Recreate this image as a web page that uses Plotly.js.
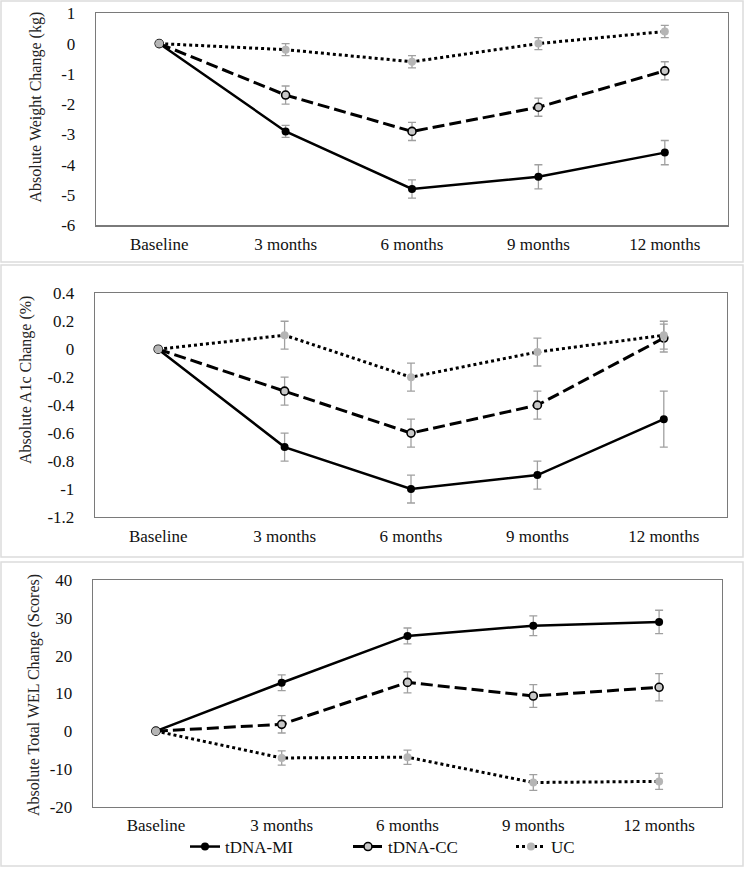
<!DOCTYPE html>
<html>
<head>
<meta charset="utf-8">
<script src="https://cdn.plot.ly/plotly-3.0.1.min.js"></script>
<style>html,body{margin:0;padding:0;background:#fff;}#chart{width:745px;height:869px;}</style>
</head>
<body>
<div id="chart"></div>
<script>
const categories = ['Baseline', '3 months', '6 months', '9 months', '12 months'];
const seriesNames = ['tDNA-MI', 'tDNA-CC', 'UC'];

// Panel 1: Absolute Weight Change (kg)
const weightMI = [0, -2.9, -4.8, -4.4, -3.6];
const weightMIErr = [0, 0.2, 0.3, 0.4, 0.4];
const weightCC = [0, -1.7, -2.9, -2.1, -0.9];
const weightCCErr = [0, 0.3, 0.3, 0.3, 0.3];
const weightUC = [0, -0.2, -0.6, 0.0, 0.4];
const weightUCErr = [0, 0.2, 0.2, 0.2, 0.2];

// Panel 2: Absolute A1c Change (%)
const a1cMI = [0, -0.7, -1.0, -0.9, -0.5];
const a1cMIErr = [0, 0.1, 0.1, 0.1, 0.2];
const a1cCC = [0, -0.3, -0.6, -0.4, 0.08];
const a1cCCErr = [0, 0.1, 0.1, 0.1, 0.1];
const a1cUC = [0, 0.1, -0.2, -0.02, 0.1];
const a1cUCErr = [0, 0.1, 0.1, 0.1, 0.1];

// Panel 3: Absolute Total WEL Change (Scores)
const welMI = [0, 12.8, 25.2, 27.9, 28.9];
const welMIErr = [0, 2.1, 2.1, 2.6, 3.1];
const welCC = [0, 1.8, 12.9, 9.3, 11.6];
const welCCErr = [0, 2.3, 2.8, 3.0, 3.6];
const welUC = [0, -7.1, -6.9, -13.6, -13.3];
const welUCErr = [0, 1.9, 1.9, 2.1, 2.1];

// Tick labels
const weightTicks = [1, 0, -1, -2, -3, -4, -5, -6];
const weightTickText = ['1', '0', '-1', '-2', '-3', '-4', '-5', '-6'];
const a1cTicks = [0.4, 0.2, 0, -0.2, -0.4, -0.6, -0.8, -1, -1.2];
const a1cTickText = ['0.4', '0.2', '0', '-0.2', '-0.4', '-0.6', '-0.8', '-1', '-1.2'];
const welTicks = [40, 30, 20, 10, 0, -10, -20];
const welTickText = ['40', '30', '20', '10', '0', '-10', '-20'];

const yTitles = ['Absolute Weight Change (kg)', 'Absolute A1c Change (%)', 'Absolute Total WEL Change (Scores)'];

const W = 745, H = 869;
const FONT = 'Liberation Serif';

const styles = [
  {line: {color: '#000', width: 2.5, dash: 'solid'}, marker: {color: '#000', size: 8, symbol: 'circle'}},
  {line: {color: '#000', width: 3, dash: '12px,5px'}, marker: {color: '#c8c8c8', size: 8, symbol: 'circle', line: {color: '#000', width: 1.6}}},
  {line: {color: '#000', width: 3, dash: '3px,3px'}, marker: {color: '#b5b5b5', size: 8, symbol: 'circle'}}
];

const panels = [
  {vals: [weightMI, weightCC, weightUC], errs: [weightMIErr, weightCCErr, weightUCErr], ax: ''},
  {vals: [a1cMI, a1cCC, a1cUC], errs: [a1cMIErr, a1cCCErr, a1cUCErr], ax: '2'},
  {vals: [welMI, welCC, welUC], errs: [welMIErr, welCCErr, welUCErr], ax: '3'}
];

const traces = [];
panels.forEach((p, pi) => {
  p.vals.forEach((v, si) => {
    traces.push({
      type: 'scatter', mode: 'lines+markers',
      x: categories, y: v, name: seriesNames[si],
      xaxis: 'x' + p.ax, yaxis: 'y' + p.ax,
      line: styles[si].line, marker: styles[si].marker,
      error_y: {type: 'data', array: p.errs[si], visible: true, color: '#a0a0a0', thickness: 1.3, width: 4},
      showlegend: pi === 2, legendgroup: seriesNames[si]
    });
  });
});

function xa(domain, anchor) {
  return {domain: domain, anchor: anchor, type: 'category', range: [-0.5, 4.5],
    showline: true, mirror: true, linecolor: '#7a7a7a', linewidth: 1.3,
    showgrid: false, zeroline: false, ticks: '', ticklabelstandoff: 3,
    tickfont: {family: FONT, size: 17, color: '#111'}, fixedrange: true};
}
function ya(domain, anchor, range, tv, tt) {
  return {domain: domain, anchor: anchor, range: range, tickmode: 'array', tickvals: tv, ticktext: tt,
    showline: true, mirror: true, linecolor: '#7a7a7a', linewidth: 1.3,
    showgrid: false, zeroline: false, ticks: '', ticklabelstandoff: 16,
    tickfont: {family: FONT, size: 17, color: '#111'}, fixedrange: true};
}

const py = (top, bottom) => [1 - bottom / H, 1 - top / H];

const layout = {
  width: W, height: H,
  margin: {l: 0, r: 0, t: 0, b: 0, autoexpand: false},
  paper_bgcolor: '#fff', plot_bgcolor: '#fff',
  font: {family: FONT},
  showlegend: true,
  legend: {orientation: 'h', x: 185 / W, xanchor: 'left', y: 1 - 847 / H, yanchor: 'middle',
    entrywidth: 118, entrywidthmode: 'pixels',
    bgcolor: 'rgba(0,0,0,0)', font: {family: FONT, size: 17, color: '#111'}, traceorder: 'normal', tracegroupgap: 0},
  xaxis: xa([96 / W, 728 / W], 'y'),
  yaxis: ya(py(13.3, 225.3), 'x', [-6, 1], weightTicks, weightTickText),
  xaxis2: xa([95 / W, 727 / W], 'y2'),
  yaxis2: ya(py(293.3, 517), 'x2', [-1.2, 0.4], a1cTicks, a1cTickText),
  xaxis3: xa([93 / W, 722 / W], 'y3'),
  yaxis3: ya(py(580, 806.7), 'x3', [-20, 40], welTicks, welTickText),
  shapes: [
    [1, 262], [265, 557], [562, 866]
  ].map(([t, b]) => ({type: 'rect', xref: 'paper', yref: 'paper', x0: 1 / W, x1: 743 / W,
    y0: 1 - b / H, y1: 1 - t / H, line: {color: '#dcdcdc', width: 1.5}, fillcolor: 'rgba(0,0,0,0)', layer: 'below'})),
  annotations: [
    {text: yTitles[0], x: 35.6 / W, y: 1 - 107 / H},
    {text: yTitles[1], x: 26 / W, y: 1 - 380 / H},
    {text: yTitles[2], x: 34 / W, y: 1 - 695 / H}
  ].map(a => Object.assign({xref: 'paper', yref: 'paper', xanchor: 'center', yanchor: 'middle',
    showarrow: false, textangle: -90, font: {family: FONT, size: 16, color: '#222'}}, a))
};

Plotly.newPlot('chart', traces, layout, {displayModeBar: false, staticPlot: true});
</script>
</body>
</html>
